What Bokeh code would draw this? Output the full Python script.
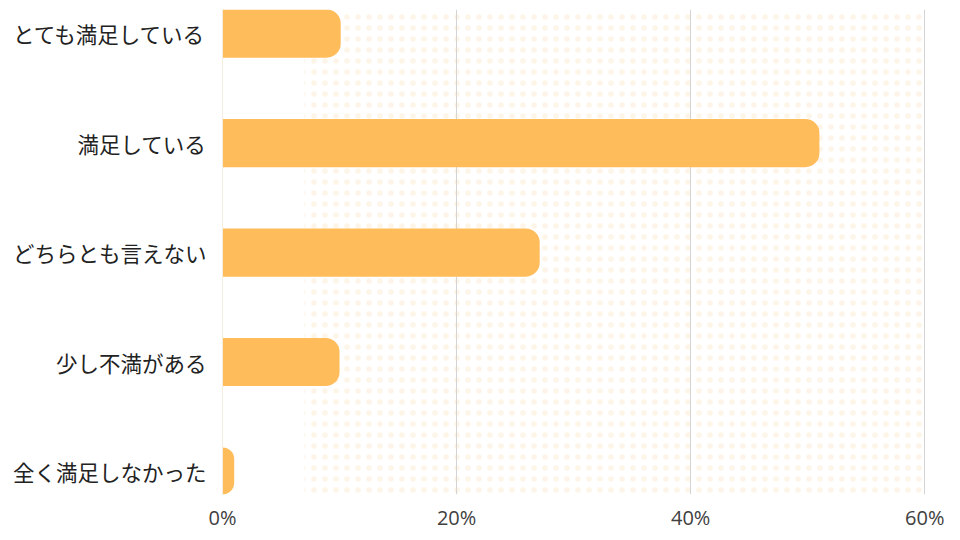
from bokeh.plotting import figure
from bokeh.models import Range1d, FixedTicker, BoxAnnotation, ColumnDataSource
from bokeh.embed import file_html
from bokeh.resources import INLINE

categories = ["とても満足している", "満足している", "どちらとも言えない", "少し不満がある", "全く満足しなかった"]
values = [10.1, 51.0, 27.1, 10.0, 1.0]
x_ticks = [0, 20, 40, 60]
x_tick_labels = ["0%", "20%", "40%", "60%"]

idx = list(range(len(categories)))
src = ColumnDataSource(dict(y=idx, v=values, cat=categories))

p = figure(width=960, height=540, output_backend="svg", toolbar_location=None,
           x_range=Range1d(0, 60.15), y_range=Range1d(4.21, -0.22),
           min_border_left=222, min_border_right=34, min_border_top=9, min_border_bottom=46)
p.outline_line_color = None
p.background_fill_color = "white"
p.border_fill_color = "white"

bg = BoxAnnotation(left=7, right=60, fill_alpha=0, line_color=None,
                   hatch_pattern="dot", hatch_color="#fdf5e8", hatch_scale=11, hatch_weight=0.8,
                   level="image")
p.add_layout(bg)

p.hbar(y="y", left=0, right="v", height=0.44, source=src, fill_color="#FFBC5A",
       line_color=None, border_radius=(0, 14, 14, 0))

p.xaxis.ticker = FixedTicker(ticks=x_ticks)
p.xaxis.major_label_overrides = {t: l for t, l in zip(x_ticks, x_tick_labels)}
p.xaxis.axis_line_color = None
p.xaxis.major_tick_line_color = None
p.xaxis.minor_tick_line_color = None
p.xaxis.major_label_text_font = "Open Sans"
p.xaxis.major_label_text_font_size = "20px"
p.xaxis.major_label_text_color = "#404040"
p.xaxis.major_label_standoff = 3

p.yaxis.ticker = FixedTicker(ticks=idx)
p.yaxis.major_label_overrides = {i: c for i, c in zip(idx, categories)}
p.yaxis.axis_line_color = "#f5eedf"
p.yaxis.major_tick_line_color = None
p.yaxis.minor_tick_line_color = None
p.yaxis.major_label_text_font = "Noto Sans CJK JP"
p.yaxis.major_label_text_font_size = "21.5px"
p.yaxis.major_label_text_color = "#222222"
p.yaxis.major_label_standoff = 10

p.xgrid.ticker = FixedTicker(ticks=[20, 40, 60])
p.xgrid.grid_line_color = "#d4d4d4"
p.xgrid.grid_line_width = 1
p.ygrid.grid_line_color = None

open("out.html", "w").write(file_html(p, INLINE))
